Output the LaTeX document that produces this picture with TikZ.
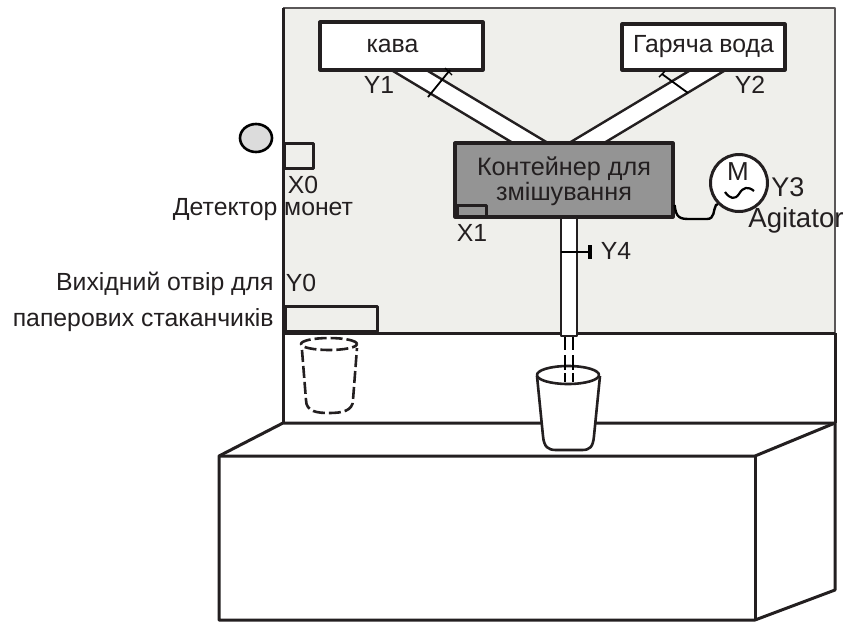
\documentclass[tikz,border=0pt]{standalone}
\usepackage{fontspec}
\setmainfont{Liberation Sans}
\usetikzlibrary{calc,positioning}
\definecolor{panelgray}{HTML}{EFEFEB}
\definecolor{tankgray}{HTML}{949494}
\definecolor{coingray}{HTML}{DCDCDC}
\definecolor{ink}{HTML}{231F20}

\begin{document}
\begin{tikzpicture}[x=0.5pt, y=-0.5pt, line join=round, every node/.style={font=\fontsize{12.4}{13}\selectfont, text=ink}]
    % Define styles for boxes, pipes and lines
    \tikzstyle{srcbox} = [draw=ink, fill=white, rectangle, line width=1.6pt, inner sep=0pt]
    \tikzstyle{tank} = [draw=ink, fill=tankgray, rectangle, line width=1.6pt, inner sep=0pt]
    \tikzstyle{sensor} = [draw=ink, rectangle, line width=1.5pt, inner sep=0pt]
    \tikzstyle{pipe} = [draw=ink, line width=1.2pt]
    \tikzstyle{edge} = [draw=ink, line width=1.5pt]
    \tikzstyle{cupline} = [draw=ink, line width=1.3pt]
    \tikzstyle{tag} = [inner sep=0pt]

    \useasboundingbox (0,0) rectangle (848,623);

    % Back wall and counter
    \fill[white] (283,333) rectangle (835,423);
    \draw[edge, fill=white] (219,456) -- (283,423) -- (835,423) -- (835,590) -- (755,620) -- (219,620) -- cycle;
    \draw[edge] (219,456) -- (755,456) -- (835,423);
    \draw[edge] (755,456) -- (755,620);
    \draw[edge] (835,333) -- (835,423);

    % Panel
    \fill[panelgray] (283,8) rectangle (835,333);
    \draw[draw=ink!75, line width=1pt] (283,8) -- (835,8) -- (835,333);
    \draw[edge] (283,8) -- (283,423);
    \draw[edge] (283,333) -- (835,333);

    % Pipes from the two sources
    \fill[white] (393,71) -- (428,71) -- (548,143) -- (513,143) -- cycle;
    \draw[pipe] (393,71) -- (513,143) (428,71) -- (548,143);
    \fill[white] (689,71) -- (724,71) -- (604,143) -- (569,143) -- cycle;
    \draw[pipe] (724,71) -- (604,143) (689,71) -- (569,143);

    % Source boxes
    \node[srcbox, minimum width=81.5pt, minimum height=24pt] (kava) at (401.5,46) {};
    \node[tag] (kavatext) at ([xshift=-4.5pt]kava.center) {кава};
    \node[srcbox, minimum width=81.5pt, minimum height=23pt] (water) at (703.5,47) {Гаряча вода};
    \node[tag] (y1) at (379,85) {Y1};
    \node[tag] (y2) at (750,85) {Y2};

    % Valves on the pipes
    \draw[line width=0.9pt] (428,97) -- (450,70);
    \draw[line width=0.7pt] (445,68) -- (452,75);
    \draw[line width=0.9pt] (662,74) -- (688,93);
    \draw[line width=0.7pt] (659,77) -- (665,71);

    % Outlet pipe
    \draw[pipe, fill=white] (561,217) rectangle (577,336);
    \draw[line width=0.9pt] (561,252) -- (591,252);
    \draw[line width=1.6pt] (590,245) -- (590,259);
    \node[tag] (y4) at (616,251) {Y4};

    % Mixing container
    \node[tank, minimum width=109pt, minimum height=37pt] (tank) at (564,180) {};
    \node[tag, align=center, font=\fontsize{12.6}{12.6}\selectfont] (tanktext) at (564,181) {Контейнер для\\змішування};
    \node[sensor, minimum width=14.5pt, minimum height=6pt] (x1box) at (471.5,211) {};
    \node[tag] (x1) at (472,233) {X1};

    % Agitator motor
    \node[draw=ink, fill=white, circle, line width=1.5pt, minimum size=28.5pt, inner sep=0pt] (motor) at (739,183) {};
    \node[tag, font=\fontsize{13}{13}\selectfont] (mletter) at (738,172) {M};
    \draw[line width=1.1pt] (725,192) .. controls (730,199) and (735,200) .. (739,194) .. controls (743,187) and (748,186) .. (754,191);
    \draw[line width=1.2pt] (tank.east |- 0,205) .. controls (676,218) and (680,219) .. (690,219) -- (707,219) .. controls (715,219) and (713,210) .. (716,205) -- (motor.225);
    \node[tag, font=\fontsize{13.5}{14}\selectfont] (y3) at (788,187) {Y3};
    \node[tag, font=\fontsize{13.8}{14}\selectfont] (agitator) at (796,220) {Agitator};

    % Coin detector
    \draw[line width=1.3pt, fill=coingray] (256,138) ellipse [x radius=8pt, y radius=7pt];
    \node[sensor, minimum width=14.5pt, minimum height=12.5pt] (x0box) at (298.5,155.5) {};
    \node[tag] (x0) at (303,185) {X0};
    \node[tag] (coin) at (263,210) {Детектор монет};

    % Paper cup outlet
    \node[sensor, minimum width=46pt, minimum height=12.5pt] (y0box) at (331,318.5) {};
    \node[tag] (y0) at (301,283) {Y0};
    \node[tag, anchor=east] (outlet1) at (274,284) {Вихідний отвір для};
    \node[tag, anchor=east] (outlet2) at (274,320) {паперових стаканчиків};

    % Dashed paper cup under the outlet
    \begin{scope}[cupline, dash pattern=on 6pt off 2pt]
        \draw (329,344) ellipse [x radius=14pt, y radius=3pt];
        \draw (302,350) -- (306,400) .. controls (306,412) and (318,413) .. (329,413)
              .. controls (342,413) and (353,411) .. (353,400) -- (357,348);
    \end{scope}

    % Cup being filled
    \draw[cupline, fill=white] (537,376) -- (543,436) .. controls (544,447) and (548,450) .. (556,450)
          -- (582,450) .. controls (590,450) and (593,447) .. (594,436) -- (600,376);
    \draw[cupline, fill=white] (568,375) ellipse [x radius=15.5pt, y radius=4.5pt];
    \foreach \a/\b in {337/350, 355/370, 373/382} {
        \draw[line width=1.4pt] (565,\a) -- (565,\b);
        \draw[line width=1.4pt] (573,\a) -- (573,\b);
    }
\end{tikzpicture}
\end{document}
